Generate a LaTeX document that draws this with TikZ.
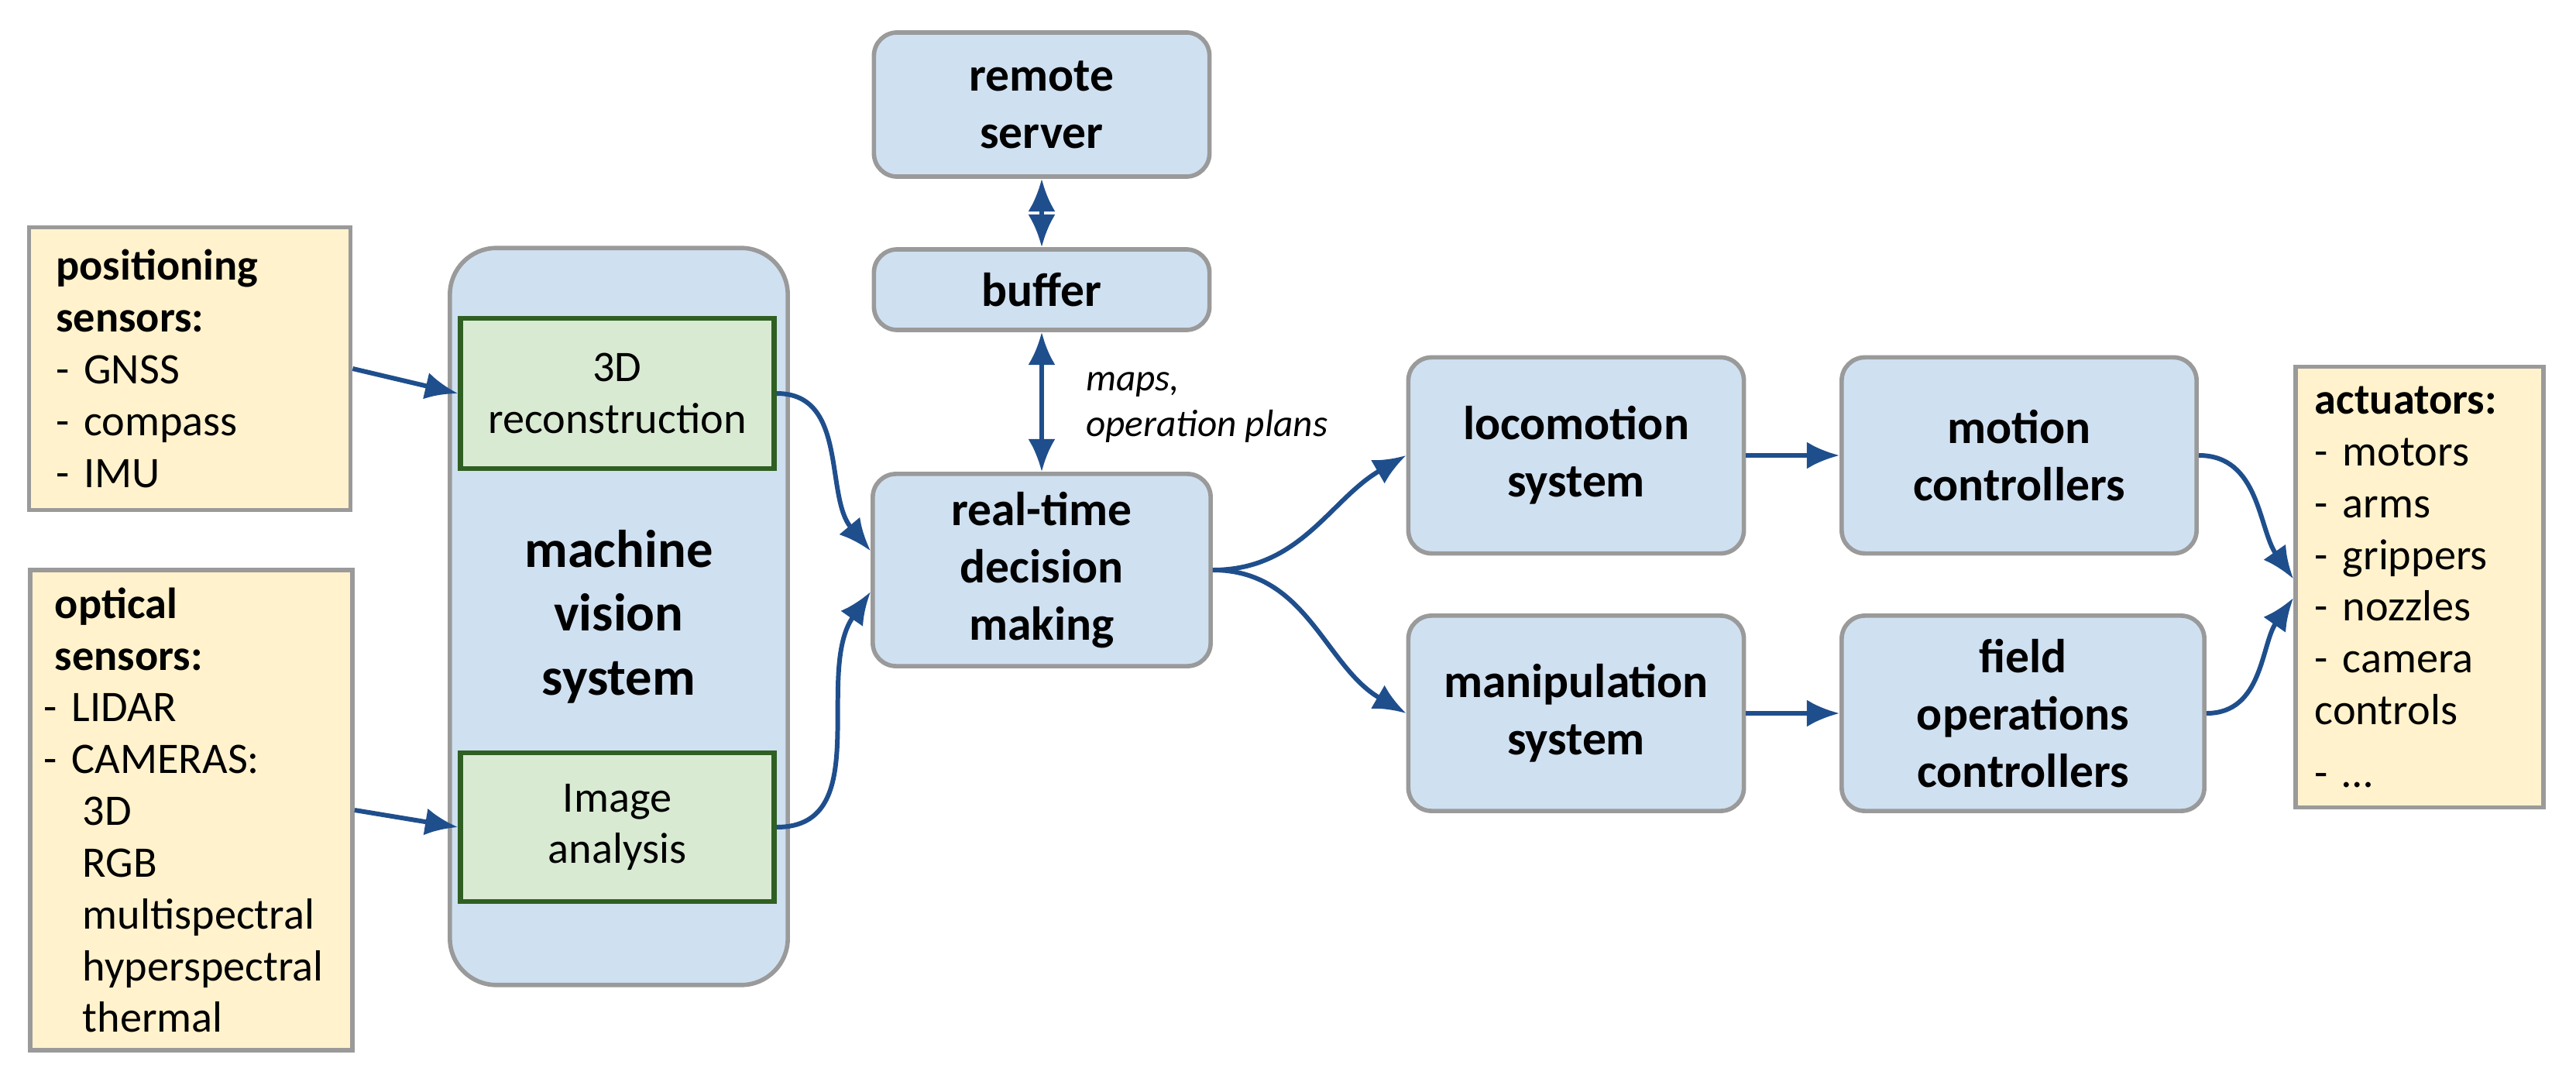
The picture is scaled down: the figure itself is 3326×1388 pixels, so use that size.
\documentclass[tikz,border=0pt]{standalone}
\usepackage{fontspec}
\setmainfont{Carlito}
\usetikzlibrary{arrows.meta}
\usetikzlibrary{backgrounds}

\definecolor{blkfill}{HTML}{CFE0F1}
\definecolor{grnfill}{HTML}{D9EAD3}
\definecolor{grnline}{HTML}{2F5F22}
\definecolor{notefill}{HTML}{FFF2CC}
\definecolor{boxline}{HTML}{9A9A9A}
\definecolor{arrblue}{HTML}{1F4E8C}

\tikzset{
    blk/.style={draw=boxline, line width=1.6pt, fill=blkfill, rounded corners=0.3cm,
        align=center, font=\fontsize{17.5}{21}\selectfont\bfseries, inner sep=0pt},
    grn/.style={draw=grnline, line width=1.8pt, fill=grnfill, align=center,
        font=\fontsize{16}{19}\selectfont, inner sep=0pt},
    note/.style={draw=boxline, line width=1.6pt, fill=notefill, align=left,
        font=\fontsize{16}{19}\selectfont, anchor=center},
    arr/.style={draw=arrblue, line width=1.7pt, -{Latex[length=12pt,width=10pt]}},
    darr/.style={draw=arrblue, line width=1.7pt, {Latex[length=12pt,width=10pt]}-{Latex[length=12pt,width=10pt]}}
}

\begin{document}
\begin{tikzpicture}[x=0.01cm, y=-0.01cm]
        \useasboundingbox (0,0) rectangle (3326,1388);

        % sensors
        \node[note, minimum width=4.15cm, minimum height=3.65cm, text width=3.45cm] (pos) at (245,476)
            {\textbf{positioning}\\ \textbf{sensors:}\\ - GNSS\\ - compass\\ - IMU};
        \node[note, minimum width=4.16cm, minimum height=6.2cm, text width=3.8cm, inner xsep=0.18cm] (opt) at (247,1046)
            {\hspace*{0.14cm}\textbf{optical}\\ \hspace*{0.14cm}\textbf{sensors:}\\ - LIDAR\\ - CAMERAS:\\
             \hspace*{0.5cm}3D\\ \hspace*{0.5cm}RGB\\ \hspace*{0.5cm}multispectral\\ \hspace*{0.5cm}hyperspectral\\ \hspace*{0.5cm}thermal};

        % machine vision
        \node[blk, rounded corners=0.6cm, minimum width=4.36cm, minimum height=9.51cm,
            font=\fontsize{19.5}{23.5}\selectfont\bfseries] (mvs) at (799,796) {machine\\ vision\\ system};
        \node[grn, minimum width=4.05cm, minimum height=1.94cm] (recon) at (797,508) {3D\\ reconstruction};
        \node[grn, minimum width=4.05cm, minimum height=1.92cm] (img) at (797,1068) {Image\\ analysis};

        % decision chain
        \node[blk, minimum width=4.33cm, minimum height=1.86cm] (remote) at (1345,135) {remote\\ server};
        \node[blk, minimum width=4.33cm, minimum height=1.04cm] (buffer) at (1345,374) {buffer};
        \node[blk, minimum width=4.36cm, minimum height=2.48cm] (dec) at (1345,736) {real-time\\ decision\\ making};
        \node[anchor=west, align=left, font=\fontsize{14}{17}\selectfont\itshape] (plans) at (1390,526)
            {maps,\\ operation plans};

        \node[blk, minimum width=4.33cm, minimum height=2.53cm] (loco) at (2035,588) {locomotion\\ system};
        \node[blk, minimum width=4.33cm, minimum height=2.52cm] (manip) at (2035,921) {manipulation\\ system};
        \node[blk, minimum width=4.58cm, minimum height=2.53cm] (motion) at (2607,588) {motion\\ controllers};
        \node[blk, minimum width=4.68cm, minimum height=2.52cm] (field) at (2612,921) {field\\ operations\\ controllers};

        \node[note, minimum width=3.2cm, minimum height=5.69cm, text width=2.7cm] (act) at (3124,758)
            {\textbf{actuators:}\\ - motors\\ - arms\\ - grippers\\ - nozzles\\ - camera\\ controls\\[4pt] - \dots};

        % connectors
        \draw[arr] (pos.east) -- (recon.west);
        \draw[arr] (opt.east) -- (img.west);
        \draw[arr] (recon.east) to[out=0, in=130] ([yshift=7pt]dec.west);
        \draw[arr] (img.east) to[out=0, in=235] ([yshift=-8pt]dec.west);
        \draw[darr] (remote.south) -- (buffer.north);
        \draw[darr] (buffer.south) -- (dec.north);
        \draw[arr] (dec.east) to[out=0, in=210] (loco.west);
        \draw[arr] (dec.east) to[out=0, in=150] (manip.west);
        \draw[arr] (loco.east) -- (motion.west);
        \draw[arr] (manip.east) -- (field.west);
        \draw[arr] (motion.east) to[out=0, in=125] ([yshift=3pt]act.west);
        \draw[arr] (field.east) to[out=0, in=235] ([yshift=-4pt]act.west);
    \end{tikzpicture}
\end{document}
